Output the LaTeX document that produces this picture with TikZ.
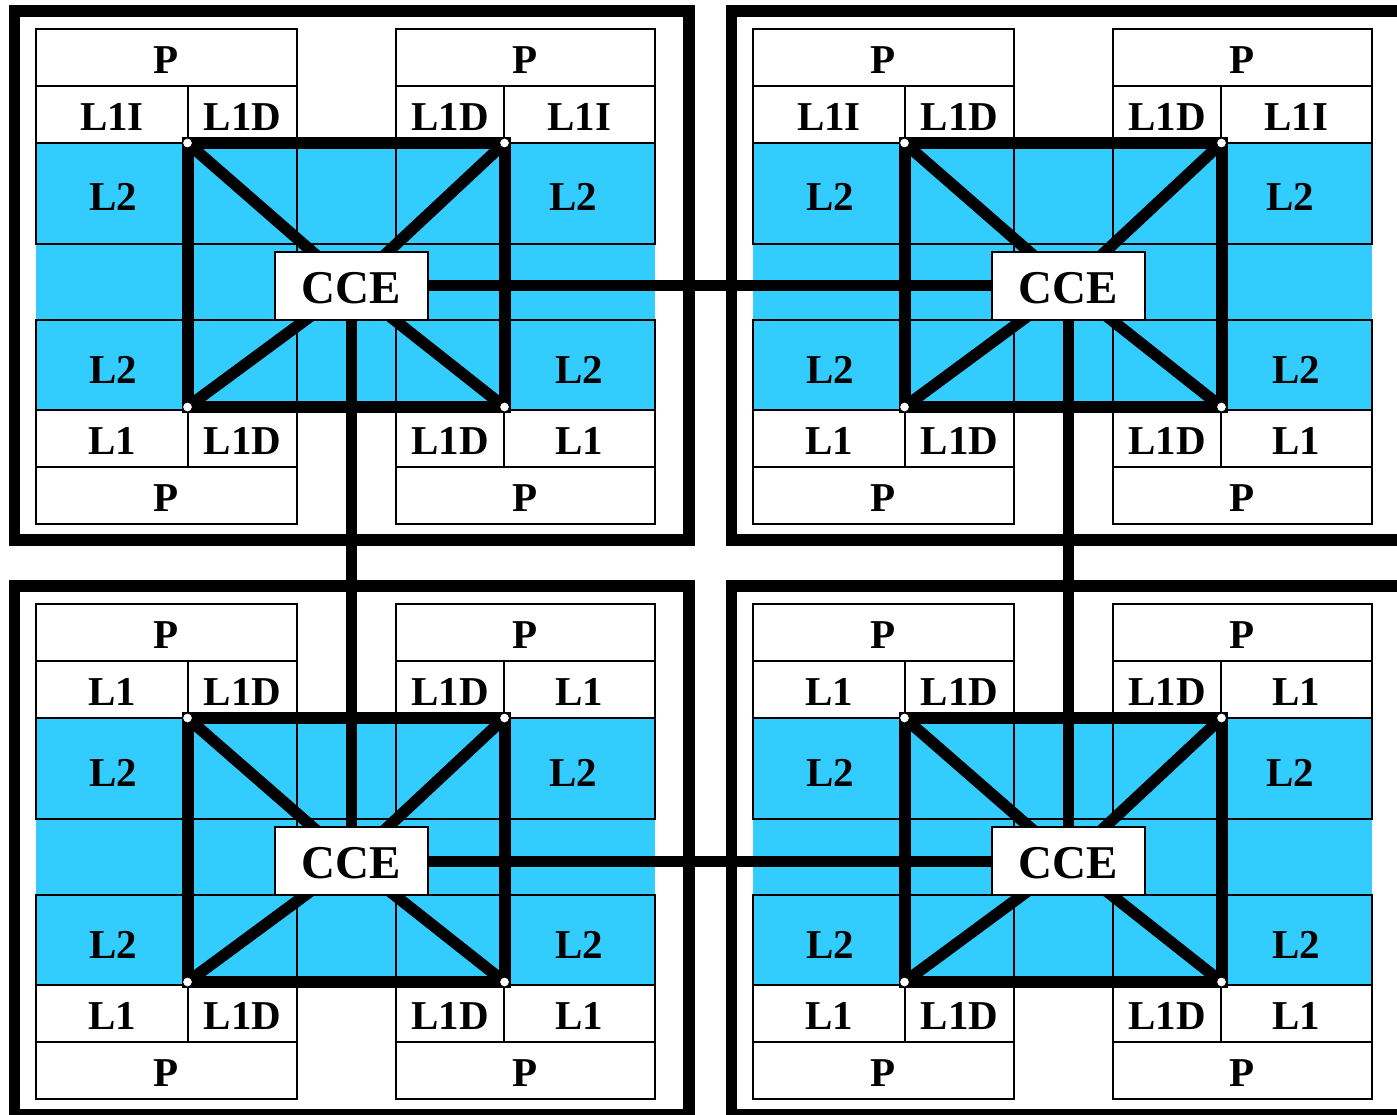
\documentclass[tikz,border=0pt]{standalone}
\usepackage{fontspec}
\setmainfont{Liberation Serif}
\pgfdeclarelayer{cells}
\pgfdeclarelayer{links}
\pgfsetlayers{cells,links,main}
\definecolor{cacheblue}{HTML}{33CCFF}
\newcommand\mylblfont{\fontsize{41}{41}\selectfont\bfseries}
\newcommand\myccefont{\fontsize{47}{47}\selectfont\bfseries}
\begin{document}
\begin{tikzpicture}[x=1pt,y=-1pt,
  cell/.style={draw, line width=1.8pt, fill=white, inner sep=0pt, text height=32pt, text depth=0pt, font=\mylblfont},
  lbl/.style={inner sep=0pt, text height=32pt, text depth=0pt, font=\mylblfont},
  gridline/.style={line width=1.8pt},
  ring/.style={line width=12pt, line join=miter},
  diag/.style={line width=11.5pt},
  link/.style={line width=11pt},
  frame/.style={line width=11.5pt},
  cce/.style={draw, line width=1.8pt, fill=white, minimum width=153pt, minimum height=68pt, inner sep=0pt, text height=34pt, text depth=0pt, font=\myccefont},
  dot/.style={circle, draw, fill=white, line width=1pt, minimum size=10pt, inner sep=0pt}]
\useasboundingbox (0,0) rectangle (1397,1115);
\clip (0,0) rectangle (1397,1115);
\foreach \q/\dx/\dy/\li in {a/0/0/L1I, b/717/0/L1I, c/0/575/L1, d/717/575/L1} {
  \begin{scope}[shift={(\dx,\dy)}]
    \begin{pgfonlayer}{cells}
      \fill[cacheblue] (36,143) rectangle (655,410);
      \draw[gridline] (36,143) rectangle (655,244) (36,320) rectangle (655,410);
      \foreach \gx in {188,297,396,504} \draw[gridline] (\gx,143) -- (\gx,410);
      % upper processors
      \node[cell, minimum width=261pt, minimum height=57pt] (\q-p1) at (166.5,57.5) {P};
      \node[cell, minimum width=152pt, minimum height=57pt] (\q-a1) at (112,114.5) {\li};
      \node[cell, minimum width=109pt, minimum height=57pt] (\q-a2) at (242.5,114.5) {L1D};
      \node[cell, minimum width=259pt, minimum height=57pt] (\q-p2) at (525.5,57.5) {P};
      \node[cell, minimum width=108pt, minimum height=57pt] (\q-b1) at (450,114.5) {L1D};
      \node[cell, minimum width=151pt, minimum height=57pt] (\q-b2) at (579.5,114.5) {\li};
      % lower processors
      \node[cell, minimum width=152pt, minimum height=57pt] (\q-c1) at (112,438.5) {L1};
      \node[cell, minimum width=109pt, minimum height=57pt] (\q-c2) at (242.5,438.5) {L1D};
      \node[cell, minimum width=261pt, minimum height=57pt] (\q-p3) at (166.5,495.5) {P};
      \node[cell, minimum width=108pt, minimum height=57pt] (\q-d1) at (450,438.5) {L1D};
      \node[cell, minimum width=151pt, minimum height=57pt] (\q-d2) at (579.5,438.5) {L1};
      \node[cell, minimum width=259pt, minimum height=57pt] (\q-p4) at (525.5,495.5) {P};
      % L2 labels
      \node[lbl] (\q-l2a) at (113,195) {L2};
      \node[lbl] (\q-l2b) at (573,195) {L2};
      \node[lbl] (\q-l2c) at (113,367) {L2};
      \node[lbl] (\q-l2d) at (579,367) {L2};
    \end{pgfonlayer}
    \node[cce] (\q-cce) at (351.5,286) {CCE};
    \coordinate (\q-tl) at (187.5,143);
    \coordinate (\q-tr) at (504.5,143);
    \coordinate (\q-bl) at (187.5,407);
    \coordinate (\q-br) at (504.5,407);
    \begin{pgfonlayer}{links}
      \draw[ring] (\q-tl) -- (\q-tr) -- (\q-br) -- (\q-bl) -- cycle;
      \foreach \k in {tl,tr,bl,br} \draw[diag] (\q-\k) -- (\q-cce.center);
    \end{pgfonlayer}
    \foreach \k in {tl,tr,bl,br} \node[dot] (\q-dot-\k) at (\q-\k) {};
    \draw[frame] (14.5,11) rectangle (689,540);
  \end{scope}
}
\begin{pgfonlayer}{links}
  \draw[link] (a-cce.center) -- (b-cce.center);
  \draw[link] (c-cce.center) -- (d-cce.center);
  \draw[link] (a-cce.center) -- (c-cce.center);
  \draw[link] (b-cce.center) -- (d-cce.center);
\end{pgfonlayer}
\end{tikzpicture}
\end{document}
